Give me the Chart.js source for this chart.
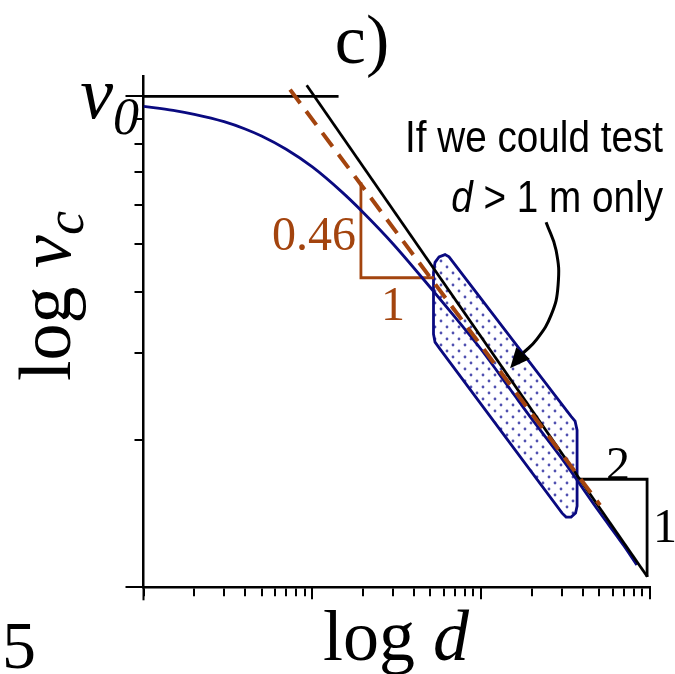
<!DOCTYPE html>
<html><head><meta charset="utf-8">
<script src="https://cdn.jsdelivr.net/npm/chart.js@4.4.1/dist/chart.umd.min.js"></script>
<style>html,body{margin:0;padding:0;background:#fff;overflow:hidden}canvas{display:block}</style>
</head><body><canvas id="c" width="675" height="674"></canvas>
<script>
// ---- tick values ----
const xTickValues = [1,2,3,4,5,6,7,8,9,10,20,30,40,50,60,70,80,90,100,200,300,400,500,600,700,800,900,1000];
const xMajorTicks = [10,100,1000];
const yTickValues = [1,2,3,4,5,6,7,8,9,10];
const yLongTicks = [1,10];

// ---- blue curve v_c(d) ----
const curveD = [1, 1.5, 2, 3, 4, 5, 7, 10, 15, 20, 30, 50, 70, 100, 150, 200, 300, 500, 700, 835];
const curveV = [9.54, 9.36, 9.19, 8.88, 8.58, 8.30, 7.80, 7.18, 6.38, 5.80, 5.01, 4.08, 3.55, 3.05, 2.52, 2.20, 1.83, 1.425, 1.215, 1.11];

// ---- v0 plateau line ----
const plateauD = [1, 14.3];
const plateauV = [10, 10];

// ---- slope -1/2 asymptote (black) ----
const asymD = [9.26, 965];
const asymV = [10.53, 1.051];

// ---- slope -0.46 fit (brown dashed) ----
const fitD = [7.38, 506];
const fitV = [10.32, 1.47];

// ---- slope triangles ----
const brownTriD = [19.4, 19.4, 52.6];
const brownTriV = [6.68, 4.27, 4.27];
const blackTriD = [385, 961, 961];
const blackTriV = [1.66, 1.66, 1.05];

// ---- tested region (d > 1 m) ----
const regionD = [52.2, 53.3, 56.3, 61.1, 64.5, 340.9, 360.0, 369.9, 369.9, 362.4, 340.9, 318.4, 301.6, 57.1, 53.3, 52.2, 52.2];
const regionV = [4.38, 4.59, 4.71, 4.76, 4.71, 2.23, 2.18, 2.09, 1.464, 1.416, 1.39, 1.39, 1.416, 3.055, 3.157, 3.28, 4.38];

// ---- callout arrow ----
const arrowD = [242.4, 277.8, 285.5, 259.5, 211.5, 177.1];
const arrowV = [5.54, 4.86, 4.124, 3.583, 3.187, 2.999];
const arrowTip = {x: 148.4, y: 2.795};

const pts = (xs, ys) => xs.map((x, i) => ({x, y: ys[i]}));

const NAVY = '#0a0a80';
const BROWN = '#a3440e';
const SERIF = '"Liberation Serif","Times New Roman",serif';
const SANS = '"Liberation Sans",Arial,sans-serif';

function dotPattern() {
  const c = document.createElement('canvas');
  c.width = 12; c.height = 12;
  const g = c.getContext('2d');
  g.fillStyle = '#ffffff'; g.fillRect(0,0,12,12);
  g.fillStyle = '#5050b0';
  for (const [px,py] of [[3,3],[9,9]]) { g.beginPath(); g.arc(px,py,1.4,0,Math.PI*2); g.fill(); }
  return g.createPattern(c, 'repeat');
}

function runsWidth(ctx, runs) { let w = 0; for (const r of runs) { ctx.font = r.font; w += ctx.measureText(r.t).width; } return w; }
function drawRuns(ctx, runs, x, y, align, sx) {
  sx = sx || 1;
  const w = runsWidth(ctx, runs) * sx;
  let cx = align === 'right' ? x - w : align === 'center' ? x - w / 2 : x;
  ctx.textAlign = 'left'; ctx.textBaseline = 'alphabetic';
  for (const r of runs) {
    ctx.font = r.font;
    ctx.save(); ctx.translate(cx, y + (r.dy || 0)); ctx.scale(sx, 1); ctx.fillText(r.t, 0, 0); ctx.restore();
    cx += ctx.measureText(r.t).width * sx;
  }
}

const decor = {
  id: 'decor',
  beforeDraw(chart) {
    const ctx = chart.ctx; ctx.save(); ctx.fillStyle = '#fff'; ctx.fillRect(0,0,chart.width,chart.height); ctx.restore();
  },
  afterDatasetsDraw(chart) {
    const ctx = chart.ctx, xs = chart.scales.x, ys = chart.scales.y;
    const last = {x: xs.getPixelForValue(arrowD[arrowD.length-1]), y: ys.getPixelForValue(arrowV[arrowV.length-1])};
    const tip = {x: xs.getPixelForValue(arrowTip.x), y: ys.getPixelForValue(arrowTip.y)};
    const dx = tip.x - last.x, dy = tip.y - last.y, L = Math.hypot(dx, dy);
    const ux = dx / L, uy = dy / L, hw = 9;
    ctx.save(); ctx.fillStyle = '#000'; ctx.beginPath();
    ctx.moveTo(tip.x, tip.y);
    ctx.lineTo(last.x - uy * hw, last.y + ux * hw);
    ctx.lineTo(last.x + uy * hw, last.y - ux * hw);
    ctx.closePath(); ctx.fill(); ctx.restore();
  },
  afterDraw(chart) {
    const ctx = chart.ctx, xs = chart.scales.x, ys = chart.scales.y, ca = chart.chartArea;
    ctx.save();
    ctx.strokeStyle = '#000'; ctx.lineWidth = 2;
    for (const v of xMajorTicks) { const px = Math.round(xs.getPixelForValue(v)); ctx.beginPath(); ctx.moveTo(px, ca.bottom); ctx.lineTo(px, ca.bottom + 12); ctx.stroke(); }
    { const px = xs.getPixelForValue(1); ctx.beginPath(); ctx.moveTo(px, ca.bottom); ctx.lineTo(px, ca.bottom + 13); ctx.stroke(); }
    for (const v of yLongTicks) { const py = Math.round(ys.getPixelForValue(v)); ctx.beginPath(); ctx.moveTo(ca.left - 18, py); ctx.lineTo(ca.left, py); ctx.stroke(); }
    ctx.fillStyle = '#000';
    // title
    drawRuns(ctx, [{t: 'c)', font: `70px ${SERIF}`}], 362, 63, 'center');
    // v0 label
    const yv0 = ys.getPixelForValue(10);
    drawRuns(ctx, [{t: 'v', font: `italic 74px ${SERIF}`}, {t: '0', font: `italic 52px ${SERIF}`, dy: 16}], 139, yv0 + 22, 'right');
    // y title rotated
    ctx.save(); ctx.translate(70, 381); ctx.rotate(-Math.PI / 2);
    drawRuns(ctx, [{t: 'log ', font: `74px ${SERIF}`}, {t: 'v', font: `italic 74px ${SERIF}`}, {t: 'c', font: `italic 54px ${SERIF}`, dy: 13}], 0, 0, 'left');
    ctx.restore();
    // x title
    drawRuns(ctx, [{t: 'log ', font: `72px ${SERIF}`}, {t: 'd', font: `italic 72px ${SERIF}`}], 323, 660, 'left');
    // stray 5
    drawRuns(ctx, [{t: '5', font: `68px ${SERIF}`}], 2, 668, 'left');
    // callout text
    ctx.save(); ctx.font = `44px ${SANS}`;
    const w1 = ctx.measureText('If we could test').width;
    ctx.restore();
    const sx1 = 258 / w1;
    drawRuns(ctx, [{t: 'If we could test', font: `44px ${SANS}`}], 663, 152, 'right', sx1);
    drawRuns(ctx, [{t: 'd', font: `italic 44px ${SANS}`}, {t: ' > 1 m only', font: `44px ${SANS}`}], 663, 212, 'right', sx1);
    // slope labels
    ctx.fillStyle = BROWN;
    drawRuns(ctx, [{t: '0.46', font: `48px ${SERIF}`}], 356, 250, 'right');
    drawRuns(ctx, [{t: '1', font: `48px ${SERIF}`}], 393, 320, 'center');
    ctx.fillStyle = '#000';
    drawRuns(ctx, [{t: '2', font: `48px ${SERIF}`}], 618, 480, 'center');
    drawRuns(ctx, [{t: '1', font: `48px ${SERIF}`}], 665, 542, 'center');
    ctx.restore();
  }
};

const lineDs = (data, color, width, extra) => Object.assign({data, borderColor: color, borderWidth: width, pointRadius: 0, fill: false, tension: 0, order: 1}, extra || {});

new Chart(document.getElementById('c'), {
  type: 'line',
  data: {
    datasets: [
      lineDs(pts(fitD, fitV), BROWN, 4, {borderDash: [17, 10], borderCapStyle: 'butt', order: 0}),
      lineDs(pts(asymD, asymV), '#000', 2.8),
      lineDs(pts(plateauD, plateauV), '#000', 2.8),
      lineDs(pts(curveD, curveV), NAVY, 2.8, {cubicInterpolationMode: 'monotone'}),
      lineDs(pts(brownTriD, brownTriV), BROWN, 2.8),
      lineDs(pts(blackTriD, blackTriV), '#000', 2.8),
      lineDs(pts(arrowD, arrowV), '#000', 3, {tension: 0.45, order: 0}),
      lineDs(pts(regionD, regionV), NAVY, 2.8, {fill: 'shape', backgroundColor: dotPattern(), order: 10})
    ]
  },
  options: {
    responsive: false, animation: false, events: [],
    layout: {padding: {left: 134.5, right: 25, top: 76, bottom: 77.7}},
    plugins: {legend: {display: false}, tooltip: {enabled: false}, title: {display: false}},
    scales: {
      x: {
        type: 'logarithmic', min: 1, max: 1000,
        afterBuildTicks: (s) => { s.ticks = xTickValues.map(v => ({value: v})); },
        ticks: {display: false, autoSkip: false},
        grid: {display: true, drawOnChartArea: false, drawTicks: true, tickLength: 9, color: '#000', lineWidth: 2},
        border: {display: true, color: '#000', width: 2.5}
      },
      y: {
        type: 'logarithmic', min: 1, max: 11,
        afterBuildTicks: (s) => { s.ticks = yTickValues.map(v => ({value: v})); },
        ticks: {display: false, autoSkip: false},
        grid: {display: true, drawOnChartArea: false, drawTicks: true, tickLength: 9, color: '#000', lineWidth: 2},
        border: {display: true, color: '#000', width: 2.5}
      }
    }
  },
  plugins: [decor]
});
</script>
</body></html>
